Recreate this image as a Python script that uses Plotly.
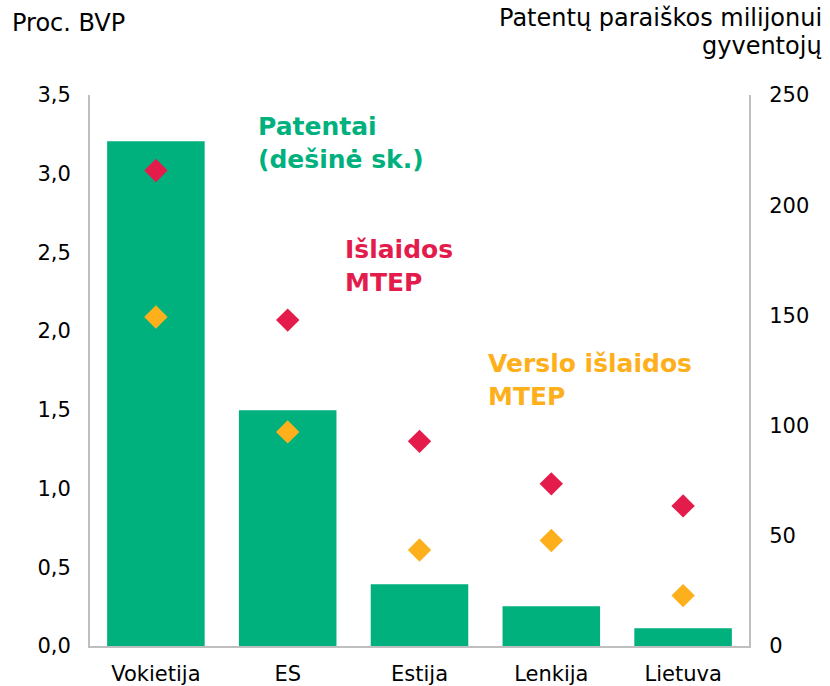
import plotly.graph_objects as go

categories = ["Vokietija", "ES", "Estija", "Lenkija", "Lietuva"]
patents = [229, 107, 28, 18, 8]               # right axis, applications per million
rd_spending = [3.02, 2.07, 1.30, 1.03, 0.89]  # left axis, % GDP
business_rd = [2.09, 1.36, 0.61, 0.67, 0.32]  # left axis, % GDP

GREEN = "#00B17E"
RED = "#E31C4C"
ORANGE = "#FDB01B"
FONT = "DejaVu Sans, Verdana, sans-serif"

L, R, T, B = 90, 81, 95, 40
W, H = 830, 686
PW, PH = W - L - R, H - T - B


def px(x):
    return (x - L) / PW


def py(y):
    return (H - B - y) / PH


fig = go.Figure()
fig.add_trace(go.Bar(x=categories, y=patents, marker=dict(color=GREEN, line=dict(width=0)),
                     yaxis="y", name="Patentai"))
fig.add_trace(go.Scatter(x=categories, y=rd_spending, mode="markers", yaxis="y2",
                         marker=dict(symbol="diamond", size=18, color=RED), name="Išlaidos MTEP"))
fig.add_trace(go.Scatter(x=categories, y=business_rd, mode="markers", yaxis="y2",
                         marker=dict(symbol="diamond", size=18, color=ORANGE),
                         name="Verslo išlaidos MTEP"))

axis_line = dict(showline=True, linecolor="#BFBFBF", linewidth=2, showgrid=False,
                 zeroline=False, automargin=False, ticks="")

fig.update_layout(
    template="none",
    width=W, height=H,
    margin=dict(l=L, r=R, t=T, b=B, pad=0),
    paper_bgcolor="white", plot_bgcolor="white",
    showlegend=False,
    bargap=0.26,
    separators=", ",
    font=dict(family=FONT, size=21, color="#000000"),
    xaxis=dict(**axis_line, ticklabelstandoff=8, tickfont=dict(family=FONT, size=21)),
    yaxis=dict(**axis_line, side="right", range=[0, 250], dtick=50,
               ticklabelstandoff=14, tickfont=dict(family=FONT, size=21)),
    yaxis2=dict(**axis_line, side="left", overlaying="y", range=[0, 3.5], dtick=0.5,
                tickformat=".1f", ticklabelstandoff=13,
                tickfont=dict(family=FONT, size=21)),
    annotations=[
        dict(text="Proc. BVP", xref="paper", yref="paper", x=px(10), y=py(23),
             xanchor="left", yanchor="middle", showarrow=False,
             font=dict(family=FONT, size=24, color="#000")),
        dict(text="Patentų paraiškos milijonui", xref="paper", yref="paper",
             x=px(824), y=py(18), xanchor="right", yanchor="middle", align="right",
             showarrow=False, font=dict(family=FONT, size=24, color="#000")),
        dict(text="gyventojų", xref="paper", yref="paper",
             x=px(824), y=py(46), xanchor="right", yanchor="middle", align="right",
             showarrow=False, font=dict(family=FONT, size=24, color="#000")),
        dict(text="<b>Patentai<br>(dešinė sk.)</b>", xref="paper", yref="paper",
             x=px(256), y=py(143), xanchor="left", yanchor="middle", align="left",
             showarrow=False, font=dict(family=FONT, size=25, color=GREEN)),
        dict(text="<b>Išlaidos<br>MTEP</b>", xref="paper", yref="paper",
             x=px(343), y=py(266), xanchor="left", yanchor="middle", align="left",
             showarrow=False, font=dict(family=FONT, size=25, color=RED)),
        dict(text="<b>Verslo išlaidos<br>MTEP</b>", xref="paper", yref="paper",
             x=px(486), y=py(380), xanchor="left", yanchor="middle", align="left",
             showarrow=False, font=dict(family=FONT, size=25, color=ORANGE)),
    ],
)

fig.write_html("out.html", config={"displayModeBar": False},
               post_script="document.body.style.margin='0';")
